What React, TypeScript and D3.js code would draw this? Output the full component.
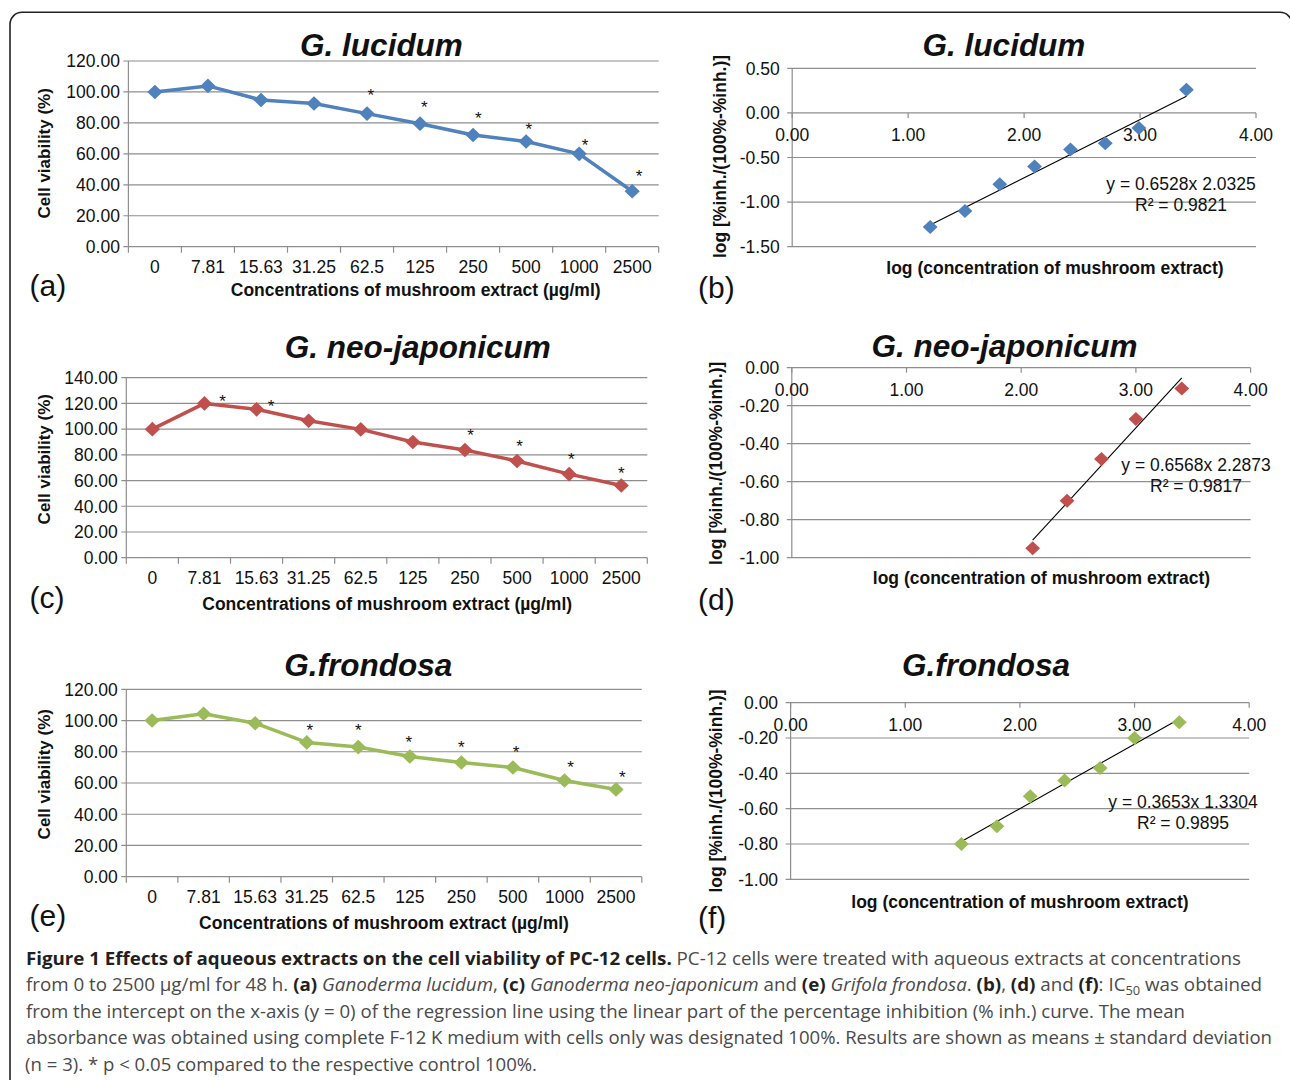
import React from "react";
import * as d3 from "d3";

// ---------- data ----------
const concentrations = ["0", "7.81", "15.63", "31.25", "62.5", "125", "250", "500", "1000", "2500"];

const lucidumViability = [100, 103.9, 94.8, 92.5, 86.0, 79.5, 72.2, 68.0, 60.0, 35.8];
const neoViability = [100, 120.0, 115.4, 106.5, 99.8, 90.0, 83.8, 75.2, 65.0, 56.2];
const frondosaViability = [100, 104.3, 98.3, 86.0, 83.0, 77.0, 73.1, 69.9, 61.6, 55.9];

// significance asterisks: category position (index) and level (%)
const lucidumStarPos = [4.07, 5.08, 6.1, 7.05, 8.11, 9.13];
const lucidumStarLevel = [100.2, 92.5, 85.2, 78.1, 68.0, 47.7];
const neoStarPos = [1.35, 2.28, 6.11, 7.05, 8.04, 9.0];
const neoStarLevel = [124.8, 121.0, 98.5, 89.8, 79.3, 68.3];
const frondosaStarPos = [3.06, 4.0, 4.98, 6.0, 7.06, 8.12, 9.12];
const frondosaStarLevel = [96.2, 96.2, 88.3, 85.3, 82.1, 72.3, 65.9];

// log(concentration) vs log[%inh/(100-%inh)]
const lucidumLogConc = [1.19, 1.49, 1.79, 2.09, 2.4, 2.7, 2.99, 3.4];
const lucidumLogRatio = [-1.28, -1.1, -0.8, -0.6, -0.41, -0.34, -0.17, 0.26];
const lucidumFit = [0.6528, -2.0325, 0.9821];

const neoLogConc = [2.1, 2.4, 2.7, 3.0, 3.4];
const neoLogRatio = [-0.95, -0.7, -0.48, -0.27, -0.11];
const neoFit = [0.6568, -2.2873, 0.9817];

const frondosaLogConc = [1.49, 1.8, 2.09, 2.39, 2.7, 3.0, 3.39];
const frondosaLogRatio = [-0.8, -0.7, -0.53, -0.44, -0.37, -0.2, -0.11];
const frondosaFit = [0.3653, -1.3304, 0.9895];

const logXTicks = [0, 1, 2, 3, 4];
const lucidumLogYTicks = [0.5, 0, -0.5, -1.0, -1.5];
const neoLogYTicks = [0, -0.2, -0.4, -0.6, -0.8, -1.0];
const frondosaLogYTicks = [0, -0.2, -0.4, -0.6, -0.8, -1.0];

// ---------- styles ----------
const FONT = "'Liberation Sans', Arial, Helvetica, sans-serif";
const GRID = "#8e8e8e";
const INK = "#111";
const BLUE = "#4F81BD";
const RED = "#C0504D";
const GREEN = "#9BBB59";

const fmt = (v: number) => {
  const s = v.toFixed(2);
  return s === "-0.00" ? "0.00" : s;
};
const diamond = (cx: number, cy: number, rx: number, ry: number) =>
  `M${cx},${cy - ry}L${cx + rx},${cy}L${cx},${cy + ry}L${cx - rx},${cy}Z`;

type ViabilityProps = {
  values: number[];
  starPos: number[];
  starLevel: number[];
  color: string;
  title: string;
  titleX: number;
  titleY: number;
  left: number;
  right: number;
  top: number;
  bottom: number;
  yMax: number;
  xTitleX: number;
  xTitleY: number;
  yTitleX: number;
  yTitleY: number;
  panel: string;
  panelY: number;
};

function ViabilityPanel(p: ViabilityProps) {
  const xb = d3.scaleBand<string>().domain(concentrations).range([p.left, p.right]);
  const xi = d3
    .scaleLinear()
    .domain([-0.5, concentrations.length - 0.5])
    .range([p.left, p.right]);
  const y = d3.scaleLinear().domain([0, p.yMax]).range([p.bottom, p.top]);
  const yTicks = y.ticks(p.yMax / 20);
  const line = d3
    .line<number>()
    .x((_, i) => xi(i))
    .y((d) => y(d));
  const bounds = [...concentrations.map((c) => xb(c) as number), p.right];
  return (
    <g>
      <text x={p.titleX} y={p.titleY} textAnchor="middle" fontSize={31.5} fontWeight="bold" fontStyle="italic" fill={INK}>
        {p.title}
      </text>
      {yTicks.map((t) => (
        <g key={t}>
          <line x1={p.left - 5} x2={p.right} y1={y(t)} y2={y(t)} stroke={GRID} strokeWidth={1.2} />
          <text x={p.left - 8.5} y={y(t)} dy="0.36em" textAnchor="end" fontSize={17.5} fill={INK}>
            {t.toFixed(2)}
          </text>
        </g>
      ))}
      <line x1={p.left} x2={p.left} y1={p.top} y2={p.bottom} stroke={GRID} strokeWidth={1.2} />
      {bounds.map((b, i) => (
        <line key={i} x1={b} x2={b} y1={p.bottom} y2={p.bottom + 6} stroke={GRID} strokeWidth={1.2} />
      ))}
      {concentrations.map((c) => (
        <text key={c} x={(xb(c) as number) + xb.bandwidth() / 2} y={p.bottom + 26.5} textAnchor="middle" fontSize={17.5} fill={INK}>
          {c}
        </text>
      ))}
      <path d={line(p.values) || ""} fill="none" stroke={p.color} strokeWidth={3.5} strokeLinejoin="round" />
      {p.values.map((v, i) => (
        <path key={i} d={diamond(xi(i), y(v), 7.6, 7.3)} fill={p.color} />
      ))}
      {p.starPos.map((s, i) => (
        <text key={i} x={xi(s)} y={y(p.starLevel[i]) + 9.5} textAnchor="middle" fontSize={17} fill={INK}>
          *
        </text>
      ))}
      <text x={p.xTitleX} y={p.xTitleY} textAnchor="middle" fontSize={17.5} fontWeight="bold" fill={INK}>
        Concentrations of mushroom extract (µg/ml)
      </text>
      <text transform={`translate(${p.yTitleX + 5.5},${p.yTitleY}) rotate(-90)`} textAnchor="middle" fontSize={17} fontWeight="bold" fill={INK}>
        Cell viability (%)
      </text>
      <text x={29.5} y={p.panelY} fontSize={30} fill={INK}>
        {p.panel}
      </text>
    </g>
  );
}

type LogProps = {
  xs: number[];
  ys: number[];
  fit: number[];
  yTicks: number[];
  color: string;
  title: string;
  titleX: number;
  titleY: number;
  left: number;
  right: number;
  top: number;
  bottom: number;
  eqX: number;
  eqY: number;
  xTitleX: number;
  xTitleY: number;
  yTitleX: number;
  yTitleY: number;
  panel: string;
  panelY: number;
};

function LogPanel(p: LogProps) {
  const x = d3.scaleLinear().domain([0, 4]).range([p.left, p.right]);
  const yExt = d3.extent(p.yTicks) as [number, number];
  const y = d3.scaleLinear().domain(yExt).range([p.bottom, p.top]);
  const [slope, intercept, r2] = p.fit;
  const [fx0, fx1] = d3.extent(p.xs) as [number, number];
  const fitLine = d3
    .line<number>()
    .x((d) => x(d))
    .y((d) => y(slope * d + intercept));
  const y0 = y(0);
  return (
    <g>
      <text x={p.titleX} y={p.titleY} textAnchor="middle" fontSize={31.5} fontWeight="bold" fontStyle="italic" fill={INK}>
        {p.title}
      </text>
      {p.yTicks.map((t) => (
        <g key={t}>
          <line x1={p.left - 5} x2={p.right} y1={y(t)} y2={y(t)} stroke={GRID} strokeWidth={1.2} />
          <text x={p.left - 12.5} y={y(t)} dy="0.36em" textAnchor="end" fontSize={17.5} fill={INK}>
            {fmt(t)}
          </text>
        </g>
      ))}
      <line x1={p.left} x2={p.left} y1={p.top} y2={p.bottom} stroke={GRID} strokeWidth={1.2} />
      {logXTicks.map((t) => (
        <g key={t}>
          <line x1={x(t)} x2={x(t)} y1={y0} y2={y0 + 5} stroke={GRID} strokeWidth={1.2} />
          <text x={x(t)} y={y0 + 28} textAnchor="middle" fontSize={17.5} fill={INK}>
            {fmt(t)}
          </text>
        </g>
      ))}
      <path d={fitLine([fx0, fx1]) || ""} fill="none" stroke="#000" strokeWidth={1.1} />
      {p.xs.map((v, i) => (
        <path key={i} d={diamond(x(v), y(p.ys[i]), 7.4, 7.0)} fill={p.color} />
      ))}
      <text x={p.eqX} y={p.eqY} textAnchor="middle" fontSize={17.5} fill={INK}>
        {`y = ${slope.toFixed(4)}x ${Math.abs(intercept).toFixed(4)}`}
      </text>
      <text x={p.eqX} y={p.eqY + 21} textAnchor="middle" fontSize={17.5} fill={INK}>
        {`R² = ${r2.toFixed(4)}`}
      </text>
      <text x={p.xTitleX} y={p.xTitleY} textAnchor="middle" fontSize={17.5} fontWeight="bold" fill={INK}>
        log (concentration of mushroom extract)
      </text>
      <text transform={`translate(${p.yTitleX + 5.5},${p.yTitleY}) rotate(-90)`} textAnchor="middle" fontSize={17.5} fontWeight="bold" fill={INK}>
        log [%inh./(100%-%inh.)]
      </text>
      <text x={698} y={p.panelY} fontSize={30} fill={INK}>
        {p.panel}
      </text>
    </g>
  );
}

const CAP_FONT = "'Open Sans', 'Noto Sans', sans-serif";
const CAP_GRAY = "#4a4a4a";
const CAP_DARK = "#231f20";

function Caption() {
  const b = (s: string) => (
    <tspan fontWeight="bold" fill={CAP_DARK}>
      {s}
    </tspan>
  );
  const it = (s: string) => <tspan fontStyle="italic">{s}</tspan>;
  const common = { fontFamily: CAP_FONT, fontSize: 17.5, fill: CAP_GRAY, lengthAdjust: "spacingAndGlyphs" as const };
  return (
    <g>
      <text x={26} y={964.5} textLength={1215} {...common}>
        {b("Figure 1 Effects of aqueous extracts on the cell viability of PC-12 cells.")}
        {" PC-12 cells were treated with aqueous extracts at concentrations"}
      </text>
      <text x={26} y={991} textLength={1236} {...common}>
        {"from 0 to 2500 µg/ml for 48 h. "}
        {b("(a)")} {it("Ganoderma lucidum")}
        {", "}
        {b("(c)")} {it("Ganoderma neo-japonicum")}
        {" and "}
        {b("(e)")} {it("Grifola frondosa")}
        {". "}
        {b("(b)")}
        {", "}
        {b("(d)")}
        {" and "}
        {b("(f)")}
        {": IC"}
        <tspan fontSize={12} dy={4}>
          50
        </tspan>
        <tspan dy={-4}>{" was obtained"}</tspan>
      </text>
      <text x={26} y={1017.5} textLength={1159} {...common}>
        from the intercept on the x-axis (y = 0) of the regression line using the linear part of the percentage inhibition (% inh.) curve. The mean
      </text>
      <text x={26} y={1044} textLength={1246} {...common}>
        absorbance was obtained using complete F-12 K medium with cells only was designated 100%. Results are shown as means ± standard deviation
      </text>
      <text x={25} y={1070.5} textLength={512} {...common}>
        (n = 3). * p &lt; 0.05 compared to the respective control 100%.
      </text>
    </g>
  );
}

export default function App() {
  return (
    <svg
      width={1290}
      height={1080}
      viewBox="0 0 1290 1080"
      style={{ position: "absolute", left: 0, top: 0, background: "#fff" }}
      fontFamily={FONT}
    >
      <rect x={0} y={0} width={1290} height={1080} fill="#fff" />
      <rect x={10} y={12.3} width={1282} height={1100} rx={12} fill="none" stroke="#222" strokeWidth={1.6} />

      <ViabilityPanel
        values={lucidumViability}
        starPos={lucidumStarPos}
        starLevel={lucidumStarLevel}
        color={BLUE}
        title="G. lucidum"
        titleX={381.5}
        titleY={56}
        left={128.4}
        right={658.7}
        top={61}
        bottom={246.7}
        yMax={120}
        xTitleX={415.7}
        xTitleY={296}
        yTitleX={44.2}
        yTitleY={153.3}
        panel="(a)"
        panelY={296}
      />
      <ViabilityPanel
        values={neoViability}
        starPos={neoStarPos}
        starLevel={neoStarLevel}
        color={RED}
        title="G. neo-japonicum"
        titleX={417.7}
        titleY={357.5}
        left={126.3}
        right={647.3}
        top={377.7}
        bottom={557.7}
        yMax={140}
        xTitleX={387.2}
        xTitleY={609.5}
        yTitleX={44.2}
        yTitleY={459.2}
        panel="(c)"
        panelY={608}
      />
      <ViabilityPanel
        values={frondosaViability}
        starPos={frondosaStarPos}
        starLevel={frondosaStarLevel}
        color={GREEN}
        title="G.frondosa"
        titleX={368.2}
        titleY={676}
        left={126.3}
        right={641.8}
        top={689.3}
        bottom={876.7}
        yMax={120}
        xTitleX={384}
        xTitleY={929}
        yTitleX={44.2}
        yTitleY={774.2}
        panel="(e)"
        panelY={926}
      />

      <LogPanel
        xs={lucidumLogConc}
        ys={lucidumLogRatio}
        fit={lucidumFit}
        yTicks={lucidumLogYTicks}
        color={BLUE}
        title="G. lucidum"
        titleX={1004}
        titleY={56}
        left={792.2}
        right={1256}
        top={68.3}
        bottom={246.7}
        eqX={1181}
        eqY={190}
        xTitleX={1055}
        xTitleY={274}
        yTitleX={720}
        yTitleY={156.5}
        panel="(b)"
        panelY={298}
      />
      <LogPanel
        xs={neoLogConc}
        ys={neoLogRatio}
        fit={neoFit}
        yTicks={neoLogYTicks}
        color={RED}
        title="G. neo-japonicum"
        titleX={1004.5}
        titleY={357}
        left={791.8}
        right={1250.6}
        top={367.7}
        bottom={557.7}
        eqX={1196}
        eqY={471}
        xTitleX={1041.5}
        xTitleY={584}
        yTitleX={716}
        yTitleY={463.3}
        panel="(d)"
        panelY={609.5}
      />
      <LogPanel
        xs={frondosaLogConc}
        ys={frondosaLogRatio}
        fit={frondosaFit}
        yTicks={frondosaLogYTicks}
        color={GREEN}
        title="G.frondosa"
        titleX={986}
        titleY={676}
        left={790.6}
        right={1249.2}
        top={702.7}
        bottom={879.3}
        eqX={1183}
        eqY={808}
        xTitleX={1020}
        xTitleY={907.5}
        yTitleX={716}
        yTitleY={791}
        panel="(f)"
        panelY={928}
      />

      <Caption />
    </svg>
  );
}
